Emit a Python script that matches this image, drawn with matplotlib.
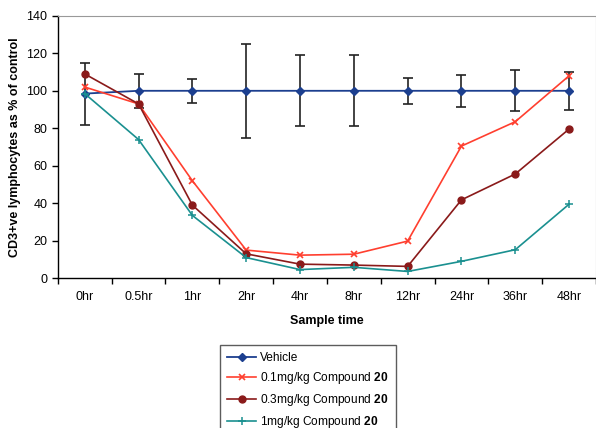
import numpy as np
import matplotlib
matplotlib.use("Agg")
import matplotlib.pyplot as plt

plt.rcParams["font.family"] = ["Liberation Sans", "DejaVu Sans"]
plt.rcParams["mathtext.fontset"] = "custom"
plt.rcParams["mathtext.rm"] = "Liberation Sans"
plt.rcParams["mathtext.bf"] = "Liberation Sans:bold"

times = ["0hr", "0.5hr", "1hr", "2hr", "4hr", "8hr", "12hr", "24hr", "36hr", "48hr"]
vehicle = [98.5, 100, 100, 100, 100, 100, 100, 100, 100, 100]
vehicle_err = [16.5, 9, 6.5, 25, 19, 19, 7, 8.5, 11, 10]
dose_01 = [102, 93, 52, 15, 12.3, 12.8, 19.8, 70.5, 83.5, 108]
dose_03 = [109, 93, 39, 13, 7.5, 7, 6.3, 41.8, 55.6, 79.6]
dose_1 = [98.5, 74, 33.5, 11, 4.6, 5.8, 3.6, 9, 15.2, 39.5]

x = np.arange(len(times))

fig = plt.figure(figsize=(5.96, 4.28), dpi=100)
ax = fig.add_axes([0.097, 0.35, 0.903, 0.613])

ax.errorbar(x, vehicle, yerr=vehicle_err, fmt="none", ecolor="#222222",
            elinewidth=1.2, capsize=3.5, capthick=1.2, zorder=2)
ax.plot(x, vehicle, color="#1c3f8f", marker="D", markersize=4, lw=1.3,
        label="Vehicle", zorder=3)
ax.plot(x, dose_01, color="#ff3f2f", marker="x", markersize=5, mew=1.2, lw=1.2,
        label=r"0.1mg/kg Compound $\mathbf{20}$", zorder=4)
ax.plot(x, dose_03, color="#8a1a1a", marker="o", markersize=5, lw=1.2,
        label=r"0.3mg/kg Compound $\mathbf{20}$", zorder=4)
ax.plot(x, dose_1, color="#1a9090", marker="+", markersize=6, mew=1.1, lw=1.2,
        label=r"1mg/kg Compound $\mathbf{20}$", zorder=4)

ax.set_xlim(-0.5, len(times) - 0.5)
ax.set_ylim(0, 140)
ax.set_yticks(range(0, 141, 20))
ax.set_xticks(x)
ax.set_xticklabels(times)
ax.set_xticks(np.arange(-0.5, len(times)), minor=True)
ax.tick_params(axis="x", which="major", length=0, pad=9, labelsize=9)
ax.tick_params(axis="x", which="minor", length=4, width=1, direction="out")
ax.tick_params(axis="y", length=4, width=1, labelsize=9)

for side in ["top", "right"]:
    ax.spines[side].set_color("#999999")
for side in ["left", "bottom"]:
    ax.spines[side].set_linewidth(1.0)

ax.set_xlabel("Sample time", fontsize=9, fontweight="bold", labelpad=9)
ax.set_ylabel("CD3+ve lymphocytes as % of control", fontsize=9, fontweight="bold")

leg = fig.legend(loc="upper left", bbox_to_anchor=(220 / 596, 1 - 345 / 428),
                 fontsize=8.6, frameon=True, fancybox=False, edgecolor="#333333",
                 handlelength=2.4, labelspacing=0.5, borderpad=0.62, handletextpad=0.35,
                 borderaxespad=0)
leg.get_frame().set_linewidth(1.0)

fig.savefig("out.png", dpi=100)
